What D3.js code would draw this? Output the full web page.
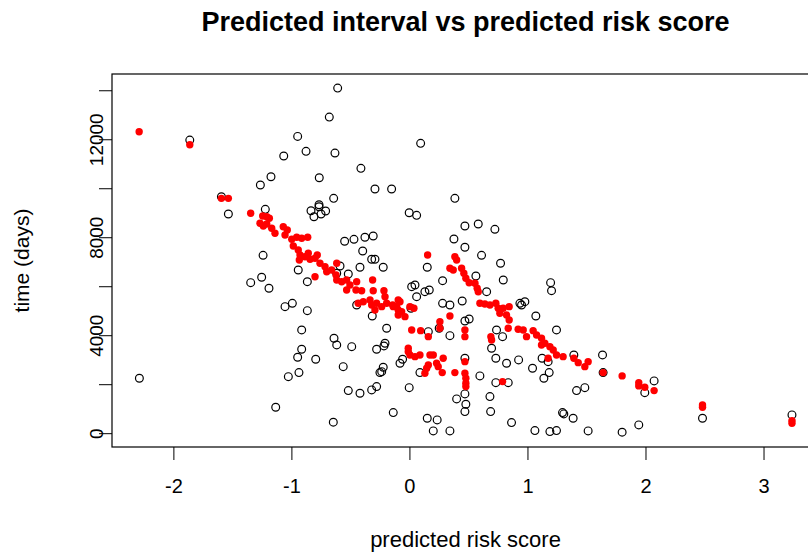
<!DOCTYPE html>
<html>
<head>
<meta charset="utf-8">
<script src="https://cdn.jsdelivr.net/npm/d3@7"></script>
<style>
  html, body { margin: 0; padding: 0; background: #fff; }
  svg { display: block; font-family: "Liberation Sans", Arial, sans-serif; }
</style>
</head>
<body>
<svg id="chart" width="808" height="553"></svg>
<script>
// ---- data (observed time vs risk score: open circles) ----
const obsRisk = [
  -0.608,-0.679,-1.861,-0.947,-0.876,-0.631,-1.065,-1.173,-0.764,-1.263,-0.642,-1.593,-1.534,-1.221,-0.766,-0.766,-0.834,-0.809,-0.749,-0.710,-0.549,-1.240,
  0.095,-0.411,-0.292,-0.151,0.385,-0.002,0.061,0.470,0.583,0.724,0.377,0.470,0.611,-0.470,-0.377,-0.307,-0.396,-0.616,
  -0.320,-0.292,-0.222,-0.419,-0.518,-0.588,0.151,0.772,0.281,0.563,0.795,0.654,1.196,1.204,0.019,0.047,0.131,0.168,0.061,-0.447,-0.315,-0.193,0.013,0.281,0.343,0.447,
  0.470,0.506,0.343,0.252,0.160,0.936,0.950,0.978,1.071,0.738,0.789,1.246,0.696,0.732,0.823,0.925,1.043,1.124,1.175,1.184,1.139,1.416,0.597,0.732,0.837,
  0.682,0.688,0.865,1.063,1.190,1.246,1.297,1.308,1.387,0.470,0.470,0.478,0.470,0.400,0.151,0.235,0.202,0.343,-0.002,-0.137,0.089,-0.080,-0.058,
  -0.222,-0.235,-0.250,-0.207,-0.216,-0.278,-0.489,-0.561,-0.518,-0.419,-0.320,-0.278,
  -0.913,-0.913,-0.947,-0.794,-0.936,-1.026,-0.639,-0.616,-1.133,-0.645,
  1.393,1.636,1.641,2.073,1.994,1.486,1.514,1.802,1.943,2.483,3.241,
  -0.942,-0.865,-1.252,-1.345,-1.190,-1.054,-0.992,-0.865,-2.288
];
const obsTime = [
  14088,12905,11967,12117,11506,11436,11314,10469,10428,10131,9588,9653,8947,9139,9327,9245,9082,8837,8947,9070,7834,7262,
  11832,10812,9967,9967,9588,9000,8894,8458,8540,8323,7927,7589,7262,7915,7997,8051,7438,6528,
  7099,7099,6773,6773,6499,6826,6773,6936,6226,6418,6255,5777,6145,5818,5981,6051,5777,5847,5573,5235,4786,4284,5100,5302,5235,5398,
  4582,4663,3982,4284,4145,5302,5235,5369,4786,4215,3941,4215,3468,3060,2856,2991,2652,3060,2921,2473,2244,1738,2338,2064,2064,
  1493,881,432,106,65,106,840,787,612,3060,1603,1183,881,1399,612,543,94,94,1860,840,2473,2856,3019,
  2693,2513,2473,3672,3562,3427,3533,2717,1738,1632,1767,1901,
  4215,3427,3101,3019,2473,2309,3876,3603,1061,449,
  3195,3195,2473,2134,1655,1860,94,41,339,612,747,
  6663,6185,6365,6145,5916,5166,5302,5002,2244
];

// ---- data (predicted interval: red filled points) ----
const predRisk = [
  -2.290,-1.861,-1.593,-1.534,-1.345,
  -1.243,-1.209,-1.187,-1.266,-1.238,-1.209,-1.167,-1.139,-1.069,-1.035,-1.054,-0.997,-0.955,-0.913,-0.862,-0.984,-0.942,-0.927,-0.933,-0.885,-0.857,-0.842,-0.800,-0.781,-0.758,-0.715,-0.701,-0.659,-0.616,-0.622,-0.616,-0.574,-0.532,-0.532,-0.504,-0.447,-0.453,-0.405,-0.312,-0.307,-0.216,-0.207,-0.800,-0.434,-0.391,-0.334,-0.320,-0.278,-0.235,-0.193,-0.137,-0.095,-0.095,-0.095,-0.292,
  -0.142,-0.108,-0.080,-0.066,-0.038,0.004,0.038,0.154,0.385,0.400,0.343,0.371,0.442,0.461,0.478,0.506,0.555,0.574,0.583,0.597,0.639,0.682,0.732,0.752,0.794,0.845,0.766,0.823,0.845,0.837,0.921,0.964,0.992,1.048,1.077,1.119,1.147,1.190,1.218,1.246,1.175,0.696,0.690,0.258,0.343,0.258,0.470,0.470,0.019,0.095,0.160,-0.010,0.004,0.047,0.089,0.174,0.202,0.160,0.286,
  -0.010,0.131,0.146,0.230,0.244,0.278,0.385,0.470,0.470,0.478,0.478,0.478,0.789,1.119,1.302,1.393,1.430,1.486,1.514,1.641,1.802,1.943,1.943,1.994,2.073,2.483,2.483,3.241,3.241
];
const predTime = [
  12305,11775,9588,9588,8976,
  8866,8837,8772,8568,8458,8540,8364,8160,8429,8295,8091,7915,7997,7956,7997,7642,7479,7275,7071,7205,7344,7099,7140,7275,6936,6797,6593,6663,6936,6459,6255,6185,6255,5847,6051,6185,5847,5818,6255,5818,5818,5573,6389,5302,5369,5439,5235,5302,5166,5302,5166,5439,5031,4827,5031,
  5235,5166,5369,4961,4757,5166,5100,7275,7205,7071,6732,6663,6732,6528,6324,6144,6120,5916,5777,5302,5275,5235,5302,5100,5100,5166,4896,4827,4623,4284,4243,4215,3941,4186,4011,3876,3672,3533,3399,3195,3060,3807,3941,4553,4786,4284,4215,3941,4215,4186,3941,3468,3195,3125,3195,3195,3195,2787,3060,
  3329,2448,2652,2856,2717,2473,2473,2921,2448,2244,2040,1901,2105,3600,3125,3060,2880,2717,2921,2473,2338,2064,1930,1877,1738,1155,1061,514,408
];

const xTicks = [-2, -1, 0, 1, 2, 3];
const yTicks = [0, 2000, 4000, 6000, 8000, 10000, 12000, 14000];
const yTickLabels = [0, 4000, 8000, 12000];

const titleText = "Predicted interval vs predicted risk score";
const xLabel = "predicted risk score";
const yLabel = "time (days)";

// ---- layout ----
const plot = { left: 112, right: 819, top: 74, bottom: 447 };
const svg = d3.select("#chart");

const x = d3.scaleLinear().domain([-2.52, 3.47]).range([plot.left, plot.right]);
const y = d3.scaleLinear().domain([-564, 14664]).range([plot.bottom, plot.top]);

// axes
const xAxis = svg.append("g")
  .attr("transform", `translate(0,${plot.bottom})`)
  .call(d3.axisBottom(x).tickValues(xTicks).tickSize(13).tickFormat(d => String(d)));
xAxis.select(".domain").remove();
xAxis.selectAll(".tick line").attr("stroke", "#000").attr("stroke-width", 1);
xAxis.selectAll(".tick text")
  .attr("y", 46).attr("dy", null)
  .attr("fill", "#000")
  .style("font-family", '"Liberation Sans", Arial, sans-serif')
  .style("font-size", "20px");

const yAxis = svg.append("g")
  .attr("transform", `translate(${plot.left},0)`)
  .call(d3.axisLeft(y).tickValues(yTicks).tickSize(13)
    .tickFormat(d => yTickLabels.includes(d) ? String(d) : ""));
yAxis.select(".domain").remove();
yAxis.selectAll(".tick line").attr("stroke", "#000").attr("stroke-width", 1);
yAxis.selectAll(".tick text")
  .attr("x", 0).attr("y", -9).attr("dy", null)
  .attr("transform", "rotate(-90)")
  .attr("text-anchor", "middle")
  .attr("fill", "#000")
  .style("font-family", '"Liberation Sans", Arial, sans-serif')
  .style("font-size", "19px");

// plot box
svg.append("rect")
  .attr("x", plot.left).attr("y", plot.top)
  .attr("width", plot.right - plot.left).attr("height", plot.bottom - plot.top)
  .attr("fill", "none").attr("stroke", "#000").attr("stroke-width", 1.2);

// observed: open circles
svg.append("g").selectAll("circle")
  .data(d3.range(obsRisk.length))
  .join("circle")
  .attr("cx", i => x(obsRisk[i]))
  .attr("cy", i => y(obsTime[i]))
  .attr("r", 3.9)
  .attr("fill", "none")
  .attr("stroke", "#000")
  .attr("stroke-width", 1.2);

// predicted: red filled points
svg.append("g").selectAll("circle")
  .data(d3.range(predRisk.length))
  .join("circle")
  .attr("cx", i => x(predRisk[i]))
  .attr("cy", i => y(predTime[i]))
  .attr("r", 3.7)
  .attr("fill", "#ff0000");

// title and labels
const cx = (plot.left + plot.right) / 2;
svg.append("text")
  .attr("x", cx).attr("y", 31)
  .attr("text-anchor", "middle")
  .style("font-size", "27px").style("font-weight", "bold")
  .text(titleText);

svg.append("text")
  .attr("x", cx).attr("y", 547)
  .attr("text-anchor", "middle")
  .style("font-size", "22px")
  .text(xLabel);

svg.append("text")
  .attr("transform", `translate(29,${(plot.top + plot.bottom) / 2}) rotate(-90)`)
  .attr("text-anchor", "middle")
  .style("font-size", "21px")
  .text(yLabel);
</script>
</body>
</html>
